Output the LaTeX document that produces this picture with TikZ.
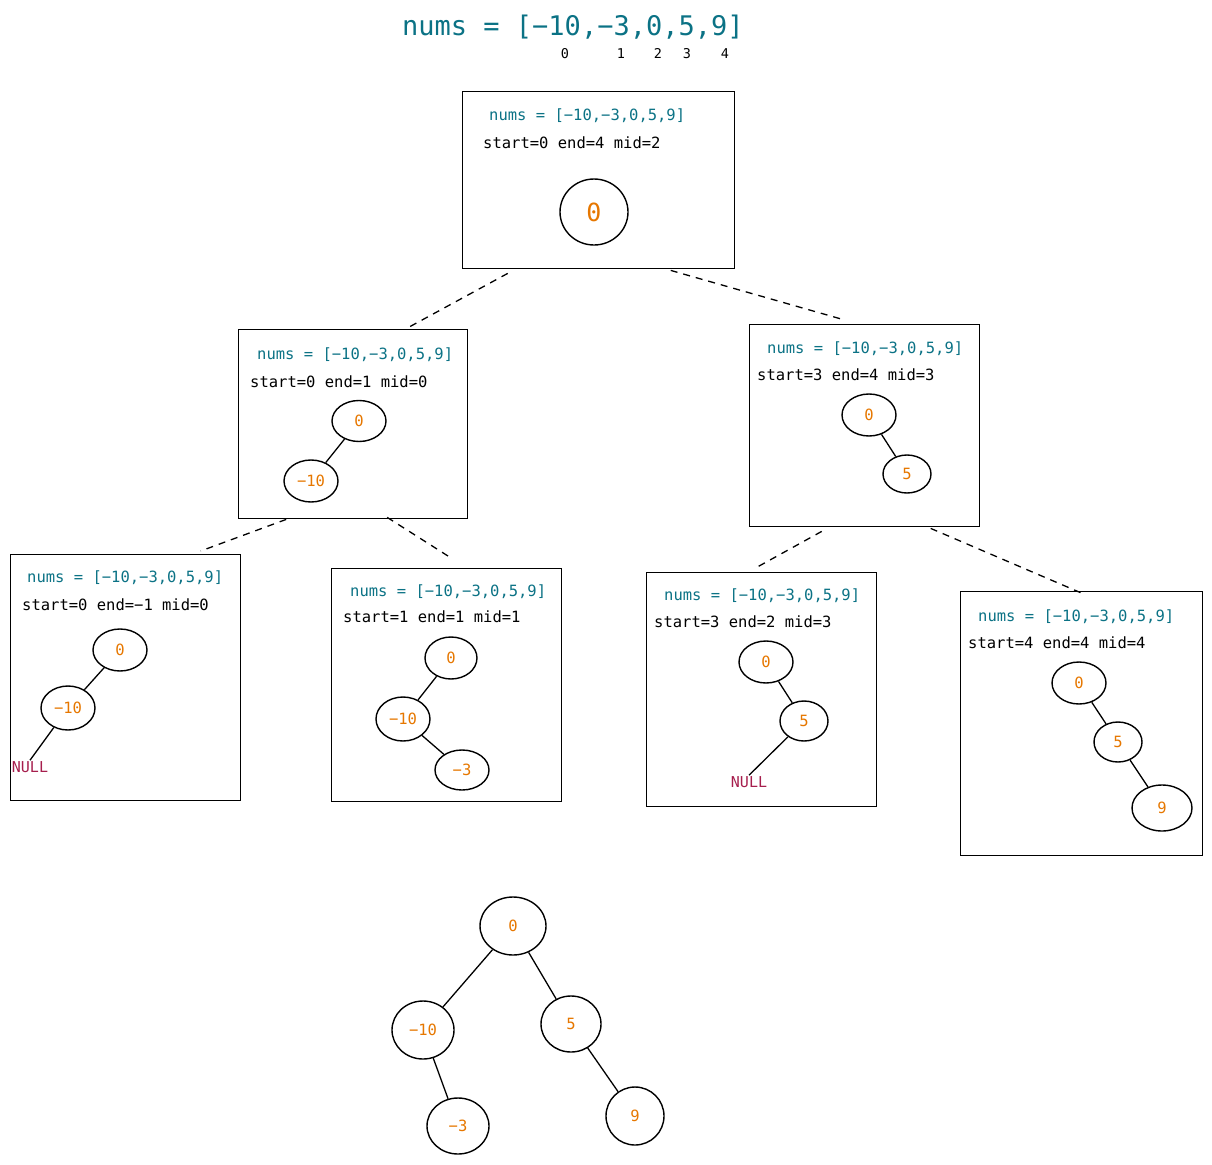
\documentclass[tikz,border=0pt]{standalone}
\usepackage{fontspec}
\setmonofont{DejaVu Sans Mono}
\usetikzlibrary{shapes.geometric,calc}
\definecolor{teal}{HTML}{0B7285}
\definecolor{ornge}{HTML}{E67700}
\definecolor{nullc}{HTML}{A61E4D}
\begin{document}
\begin{tikzpicture}[x=1pt,y=-1pt,
  frame/.style={draw=black,line width=1.4pt,inner sep=0,anchor=north west},
  numstxt/.style={anchor=west,inner sep=0,text=teal,font=\ttfamily\fontsize{15.5}{18}\selectfont},
  rangetxt/.style={anchor=west,inner sep=0,text=black,font=\ttfamily\fontsize{15.5}{18}\selectfont},
  tnode/.style={draw=black,ellipse,line width=1.4pt,inner sep=0,text=ornge,font=\ttfamily\fontsize{15.5}{18}\selectfont},
  nulltxt/.style={inner sep=1pt,text=nullc,font=\ttfamily\fontsize{15}{18}\selectfont},
  idx/.style={anchor=base,inner sep=0,font=\ttfamily\fontsize{13.5}{15}\selectfont},
  edge/.style={draw=black,line width=1.3pt},
  split/.style={draw=black,line width=1.3pt,dash pattern=on 7pt off 6pt}
]
\useasboundingbox (0,0) rectangle (1212,1164);
% title
\node[anchor=west,inner sep=0,text=teal,font=\ttfamily\fontsize{27}{30}\selectfont] (title) at (402,27) {nums = [−10,−3,0,5,9]};
\node[idx] (i0) at (565,59) {0};
\node[idx] (i1) at (621,59) {1};
\node[idx] (i2) at (658,59) {2};
\node[idx] (i3) at (687,59) {3};
\node[idx] (i4) at (725,59) {4};

% Box A
\node[frame,minimum width=272pt,minimum height=177pt] (A) at (462,91) {};
\node[numstxt] (An) at (489,116) {nums = [−10,−3,0,5,9]};
\node[rangetxt] (Ar) at (483,143) {start=0 end=4 mid=2};
\node[tnode,minimum width=68pt,minimum height=66pt,font=\ttfamily\fontsize{25}{28}\selectfont] (a0) at (594,212) {0};

% Box B
\node[frame,minimum width=229pt,minimum height=189pt] (B) at (238,329) {};
\node[numstxt] (Bn) at (257,355) {nums = [−10,−3,0,5,9]};
\node[rangetxt] (Br) at (250,382) {start=0 end=1 mid=0};
\node[tnode,minimum width=54pt,minimum height=41pt] (b0) at (359,421) {0};
\node[tnode,minimum width=54pt,minimum height=42pt] (b10) at (311,481) {−10};
\draw[edge] (b0) -- (b10);

% Box C
\node[frame,minimum width=230pt,minimum height=202pt] (C) at (749,324) {};
\node[numstxt] (Cn) at (767,349) {nums = [−10,−3,0,5,9]};
\node[rangetxt] (Cr) at (757,375) {start=3 end=4 mid=3};
\node[tnode,minimum width=54pt,minimum height=42pt] (c0) at (869,415) {0};
\node[tnode,minimum width=48pt,minimum height=38pt] (c5) at (907,474) {5};
\draw[edge] (c0) -- (c5);

% Box D
\node[frame,minimum width=230pt,minimum height=246pt] (D) at (10,554) {};
\node[numstxt] (Dn) at (27,578) {nums = [−10,−3,0,5,9]};
\node[rangetxt] (Dr) at (22,605) {start=0 end=−1 mid=0};
\node[tnode,minimum width=54pt,minimum height=42pt] (d0) at (120,650) {0};
\node[tnode,minimum width=54pt,minimum height=44pt] (d10) at (68,708) {−10};
\node[nulltxt] (dnull) at (30,767) {NULL};
\draw[edge] (d0) -- (d10);
\draw[edge] (d10) -- (dnull.north);

% Box E
\node[frame,minimum width=230pt,minimum height=233pt] (E) at (331,568) {};
\node[numstxt] (En) at (350,592) {nums = [−10,−3,0,5,9]};
\node[rangetxt] (Er) at (343,617) {start=1 end=1 mid=1};
\node[tnode,minimum width=52pt,minimum height=42pt] (e0) at (451,658) {0};
\node[tnode,minimum width=54pt,minimum height=44pt] (e10) at (403,719) {−10};
\node[tnode,minimum width=54pt,minimum height=40pt] (e3) at (462,770) {−3};
\draw[edge] (e0) -- (e10);
\draw[edge] (e10) -- (e3);

% Box F
\node[frame,minimum width=230pt,minimum height=234pt] (F) at (646,572) {};
\node[numstxt] (Fn) at (664,596) {nums = [−10,−3,0,5,9]};
\node[rangetxt] (Fr) at (654,622) {start=3 end=2 mid=3};
\node[tnode,minimum width=54pt,minimum height=42pt] (f0) at (766,662) {0};
\node[tnode,minimum width=48pt,minimum height=40pt] (f5) at (804,721) {5};
\node[nulltxt] (fnull) at (749,782) {NULL};
\draw[edge] (f0) -- (f5);
\draw[edge] (f5) -- (fnull.north);

% Box G
\node[frame,minimum width=242pt,minimum height=264pt] (G) at (960,591) {};
\node[numstxt] (Gn) at (978,617) {nums = [−10,−3,0,5,9]};
\node[rangetxt] (Gr) at (968,643) {start=4 end=4 mid=4};
\node[tnode,minimum width=54pt,minimum height=42pt] (g0) at (1079,683) {0};
\node[tnode,minimum width=48pt,minimum height=40pt] (g5) at (1118,742) {5};
\node[tnode,minimum width=60pt,minimum height=46pt] (g9) at (1162,808) {9};
\draw[edge] (g0) -- (g5);
\draw[edge] (g5) -- (g9);

% dashed recursion links
\draw[split] ([xshift=-91pt,yshift=-4pt]A.south) -- ([xshift=56pt,yshift=2pt]B.north);
\draw[split] ([xshift=72pt,yshift=-1pt]A.south) -- ([xshift=-20pt,yshift=4pt]C.north);
\draw[split] ([xshift=-67pt]B.south) -- ([xshift=75pt,yshift=3pt]D.north);
\draw[split] ([xshift=34pt,yshift=2pt]B.south) -- ([xshift=6pt,yshift=9pt]E.north);
\draw[split] ([xshift=-43pt,yshift=-4pt]C.south) -- ([xshift=-8pt,yshift=3pt]F.north);
\draw[split] ([xshift=66pt,yshift=-1pt]C.south) -- ([xshift=2pt,yshift=-3pt]G.north);

% final tree
\node[tnode,minimum width=66pt,minimum height=58pt] (t0) at (513,926) {0};
\node[tnode,minimum width=62pt,minimum height=58pt] (t10) at (423,1030) {−10};
\node[tnode,minimum width=60pt,minimum height=56pt] (t5) at (571,1024) {5};
\node[tnode,minimum width=62pt,minimum height=56pt] (t3) at (458,1126) {−3};
\node[tnode,minimum width=58pt,minimum height=58pt] (t9) at (635,1116) {9};
\draw[edge] (t0) -- (t10);
\draw[edge] (t0) -- (t5);
\draw[edge] (t10) -- (t3);
\draw[edge] (t5) -- (t9);
\end{tikzpicture}
\end{document}
